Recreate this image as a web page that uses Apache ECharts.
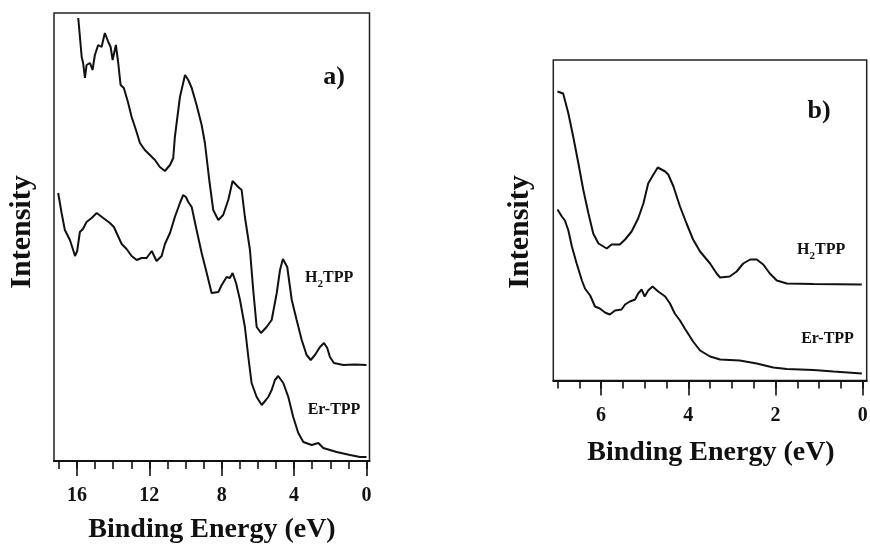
<!DOCTYPE html>
<html>
<head>
<meta charset="utf-8">
<script src="https://cdn.jsdelivr.net/npm/echarts@6/dist/echarts.min.js"></script>
<style>
html,body{margin:0;padding:0;background:#fff;}
#c{width:870px;height:547px;}
</style>
</head>
<body>
<div id="c"></div>
<script>
// ---- Panel a) : binding energy (eV) and intensity (arb. units) ----
const aH2Energy = [15.93,15.74,15.66,15.56,15.47,15.28,15.14,15.01,14.83,14.64,14.46,14.27,14.14,14.03,13.85,13.72,13.59,13.41,13.17,12.98,12.74,12.52,12.25,11.97,11.69,11.42,11.14,10.86,10.68,10.59,10.31,10.03,9.85,9.66,9.39,9.11,8.93,8.69,8.47,8.19,7.92,7.64,7.40,7.09,6.90,6.72,6.44,6.26,6.07,5.83,5.52,5.24,4.96,4.78,4.62,4.38,4.13,3.86,3.58,3.31,3.08,2.85,2.57,2.35,2.17,2.02,1.80,1.28,0.64,0];
const aH2Int    = [443,404,398,383,396,398,391,406,416,414,428,419,414,401,416,398,376,373,358,344,331,318,311,306,301,294,290,296,303,324,364,386,381,373,356,336,318,281,251,241,246,261,280,274,271,244,211,171,134,128,134,141,168,191,202,194,161,141,121,106,101,106,114,118,113,104,98,96,96.5,96];
const aErEnergy = [17.04,16.85,16.67,16.39,16.21,16.11,15.99,15.84,15.67,15.47,15.19,14.91,14.55,14.18,13.96,13.81,13.53,13.26,12.98,12.70,12.43,12.15,11.87,11.60,11.32,11.14,10.86,10.59,10.31,10.13,9.98,9.85,9.66,9.39,9.11,8.83,8.56,8.19,8.00,7.73,7.55,7.40,7.21,6.99,6.72,6.53,6.35,6.07,5.79,5.56,5.43,5.24,5.06,4.88,4.60,4.32,4.05,3.77,3.49,3.03,2.66,2.39,1.65,0.91,0.36,0];
const aErInt    = [268,248,231,221,211,205,210,229,232,239,243,248,243,238,234,228,217,212,205,201,203,203,210,200,205,217,228,244,258,266,264,259,254,231,208,188,168,169,176,184,183,188,178,161,134,104,78,64,56,61,64,71,81,85,78,64,44,28,19,16,18,13,9,6,4,4];

// ---- Panel b) ----
const bH2Energy = [7.00,6.87,6.75,6.64,6.52,6.41,6.29,6.18,6.06,5.87,5.76,5.57,5.45,5.30,5.15,5.03,4.92,4.80,4.70,4.53,4.46,4.34,4.19,4.04,3.89,3.73,3.50,3.35,3.27,3.05,2.89,2.74,2.58,2.43,2.28,2.13,1.97,1.74,1.13,0.02];
const bH2Int    = [289,287,267,244,217,191,167,147,137,132,136,136,141,149,162,177,197,206,213,209,206,194,174,157,141,129,117,107,103,104,109,117,121,121,116,107,100,97,96.5,96];
const bErEnergy = [7.00,6.90,6.83,6.75,6.67,6.56,6.44,6.37,6.25,6.14,6.03,5.91,5.80,5.68,5.53,5.45,5.34,5.22,5.15,5.07,5.00,4.92,4.82,4.69,4.53,4.42,4.31,4.19,4.08,3.89,3.73,3.50,3.27,2.82,2.43,2.05,1.74,1.13,0.67,0.02];
const bErInt    = [171,164,160,150,134,117,100,92,85,74,72,68,66,70,71,76,79,81,87,91,84,90,94,89,84,77,67,60,52,39,30,24,21,20,17,13,11.5,10.5,9,7];

// ---- tick labels ----
const aMajorTicks = [0,4,8,12,16];
const aMinorTicks = [0,1,2,3,4,5,6,7,8,9,10,11,12,13,14,15,16,17];
const bMajorTicks = [0,2,4,6];
const bMinorTicks = [0,0.5,1,1.5,2,2.5,3,3.5,4,4.5,5,5.5,6,6.5,7];

const seriesNames = ['H2TPP','Er-TPP'];

function zip(xs, ys){ return xs.map((x,i)=>[x, ys[i]]); }

const SERIF = '"Liberation Serif","Times New Roman",serif';
const INK = '#111';

function majorAxis(grid, min, max, ticks){
  return {
    type:'value', gridIndex:grid, inverse:true, min:min, max:max,
    axisLine:{show:true, onZero:false, lineStyle:{color:INK, width:2}},
    axisTick:{show:true, inside:false, length:15, customValues:ticks, lineStyle:{color:INK, width:1.6}},
    axisLabel:{show:true, customValues:ticks, margin:25, color:INK, fontFamily:SERIF, fontWeight:'bold', fontSize:20},
    splitLine:{show:false}
  };
}
function minorAxis(grid, min, max, ticks){
  return {
    type:'value', gridIndex:grid, inverse:true, min:min, max:max, position:'bottom',
    axisLine:{show:false, onZero:false},
    axisTick:{show:true, inside:false, length:8, customValues:ticks, lineStyle:{color:INK, width:1.6}},
    axisLabel:{show:false},
    splitLine:{show:false}
  };
}
function yAxis(grid, max){
  return {type:'value', gridIndex:grid, min:0, max:max, show:false};
}
function lineSeries(name, xi, yi, data){
  return {
    name:name, type:'line', xAxisIndex:xi, yAxisIndex:yi, data:data,
    showSymbol:false, symbol:'none', smooth:false, animation:false,
    lineStyle:{color:INK, width:2}
  };
}

function txt(x, y, text, size, align, extra){
  return Object.assign({
    type:'text', x:x, y:y, silent:true,
    style:{text:text, fill:INK, font:'bold '+size+'px '+SERIF,
           textAlign:align||'center', textVerticalAlign:'middle',
           align:align||'center', verticalAlign:'middle'}
  }, extra||{});
}

const option = {
  backgroundColor:'#fff',
  animation:false,
  grid:[
    {left:54, top:13, width:315.5, height:448, show:true, borderColor:'#222', borderWidth:1.5, backgroundColor:'transparent', containLabel:false, outerBoundsMode:'none'},
    {left:553.3, top:60, width:313.4, height:320.5, show:true, borderColor:'#222', borderWidth:1.5, backgroundColor:'transparent', containLabel:false, outerBoundsMode:'none'}
  ],
  xAxis:[
    majorAxis(0, -0.166, 17.27, aMajorTicks),
    minorAxis(0, -0.166, 17.27, aMinorTicks),
    majorAxis(1, -0.092, 7.096, bMajorTicks),
    minorAxis(1, -0.092, 7.096, bMinorTicks)
  ],
  yAxis:[ yAxis(0, 448), yAxis(1, 320.5) ],
  series:[
    lineSeries(seriesNames[0], 0, 0, zip(aH2Energy, aH2Int)),
    lineSeries(seriesNames[1], 0, 0, zip(aErEnergy, aErInt)),
    lineSeries(seriesNames[0], 2, 1, zip(bH2Energy, bH2Int)),
    lineSeries(seriesNames[1], 2, 1, zip(bErEnergy, bErInt))
  ],
  graphic:[
    // axis titles
    txt(212, 530, 'Binding Energy (eV)', 28),
    txt(711, 453, 'Binding Energy (eV)', 28),
    txt(22, 232, 'Intensity', 30, 'center', {rotation:Math.PI/2}),
    txt(520, 232, 'Intensity', 30, 'center', {rotation:Math.PI/2}),
    // panel tags
    txt(334, 77, 'a)', 26),
    txt(819, 111, 'b)', 26),
    // curve labels panel a
    txt(305, 278, 'H', 16, 'left'),
    txt(317.4, 284, '2', 11, 'left'),
    txt(323, 278, 'TPP', 16, 'left'),
    txt(334, 410, 'Er-TPP', 16),
    // curve labels panel b
    txt(797, 250, 'H', 16, 'left'),
    txt(809.4, 256, '2', 11, 'left'),
    txt(815, 250, 'TPP', 16, 'left'),
    txt(827.5, 339, 'Er-TPP', 16)
  ]
};

const chart = echarts.init(document.getElementById('c'), null, {renderer:'canvas'});
chart.setOption(option);
</script>
</body>
</html>
